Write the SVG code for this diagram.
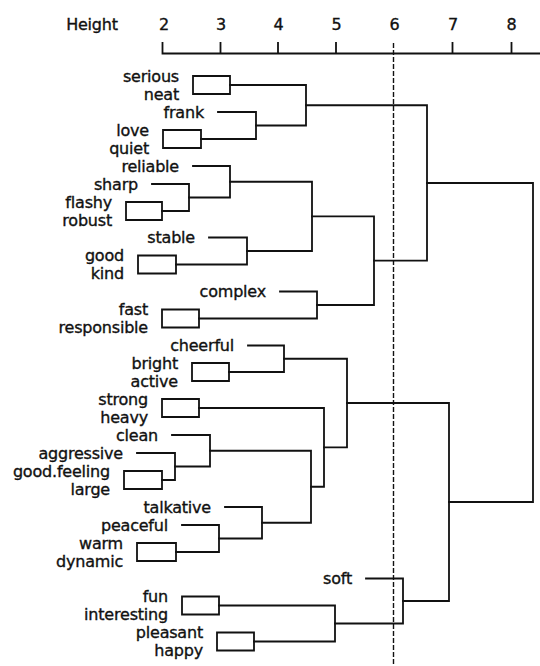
<svg xmlns="http://www.w3.org/2000/svg" width="540" height="666" viewBox="0 0 540 666">
<style>
.ln{fill:none;stroke:#111;stroke-width:1.8;stroke-linecap:square}
.dash{fill:none;stroke:#111;stroke-width:1.4;stroke-dasharray:5 2}
text{font-family:"DejaVu Sans","Liberation Sans",sans-serif;font-size:16px;fill:#111;stroke:#111;stroke-width:0.35;letter-spacing:-0.2px}
.lb{text-anchor:end}
.tk{text-anchor:middle}
</style>
<rect width="540" height="666" fill="#fff"/>
<g id="axis">
<text x="92" y="30" class="tk">Height</text>
<text x="164" y="30" class="tk">2</text>
<text x="221" y="30" class="tk">3</text>
<text x="278.5" y="30" class="tk">4</text>
<text x="336.5" y="30" class="tk">5</text>
<text x="394.5" y="30" class="tk">6</text>
<text x="453" y="30" class="tk">7</text>
<text x="511.5" y="30" class="tk">8</text>
<path class="ln" d="M162.5 53.5 H540 M162.5 43 V53.5 M220.5 43 V53.5 M278 43 V53.5 M336 43 V53.5 M452.5 43 V53.5 M511.5 43 V53.5"/>
<path class="dash" d="M393.5 43 V666"/>
</g>
<g id="leaves">
<g id="n-serious"><text class="lb" x="179" y="81.5">serious</text></g>
<g id="n-neat"><text class="lb" x="179" y="99.5">neat</text></g>
<g id="n-frank"><text class="lb" x="204" y="117.5">frank</text></g>
<g id="n-love"><text class="lb" x="149" y="135.5">love</text></g>
<g id="n-quiet"><text class="lb" x="149" y="153.5">quiet</text></g>
<g id="n-reliable"><text class="lb" x="179" y="171.5">reliable</text></g>
<g id="n-sharp"><text class="lb" x="138" y="189.5">sharp</text></g>
<g id="n-flashy"><text class="lb" x="112" y="207.5">flashy</text></g>
<g id="n-robust"><text class="lb" x="112" y="225.5">robust</text></g>
<g id="n-stable"><text class="lb" x="195" y="243">stable</text></g>
<g id="n-good"><text class="lb" x="124" y="261">good</text></g>
<g id="n-kind"><text class="lb" x="124" y="279">kind</text></g>
<g id="n-complex"><text class="lb" x="266" y="297">complex</text></g>
<g id="n-fast"><text class="lb" x="148" y="315">fast</text></g>
<g id="n-responsible"><text class="lb" x="148" y="333">responsible</text></g>
<g id="n-cheerful"><text class="lb" x="234" y="351">cheerful</text></g>
<g id="n-bright"><text class="lb" x="178" y="368.5">bright</text></g>
<g id="n-active"><text class="lb" x="178" y="386.5">active</text></g>
<g id="n-strong"><text class="lb" x="148" y="404.5">strong</text></g>
<g id="n-heavy"><text class="lb" x="148" y="422.5">heavy</text></g>
<g id="n-clean"><text class="lb" x="158" y="440.5">clean</text></g>
<g id="n-aggressive"><text class="lb" x="123" y="458.5">aggressive</text></g>
<g id="n-good-feeling"><text class="lb" x="110" y="476.5">good.feeling</text></g>
<g id="n-large"><text class="lb" x="110" y="494.5">large</text></g>
<g id="n-talkative"><text class="lb" x="211" y="512.5">talkative</text></g>
<g id="n-peaceful"><text class="lb" x="168" y="530.5">peaceful</text></g>
<g id="n-warm"><text class="lb" x="123" y="548.5">warm</text></g>
<g id="n-dynamic"><text class="lb" x="123" y="566.5">dynamic</text></g>
<g id="n-soft"><text class="lb" x="352" y="584">soft</text></g>
<g id="n-fun"><text class="lb" x="168" y="602">fun</text></g>
<g id="n-interesting"><text class="lb" x="168" y="620">interesting</text></g>
<g id="n-pleasant"><text class="lb" x="203" y="638">pleasant</text></g>
<g id="n-happy"><text class="lb" x="203" y="656">happy</text></g>
</g>
<g id="connectors">
<path class="ln" d="M193 76 H230 V94 H193 Z"/>
<path class="ln" d="M163 130 H201 V148 H163 Z"/>
<path class="ln" d="M218 112 H256 V139 H201"/>
<path class="ln" d="M230 85 H306 V125.5 H256"/>
<path class="ln" d="M126 202 H162 V220 H126 Z"/>
<path class="ln" d="M152 184 H189 V211 H162"/>
<path class="ln" d="M193 166 H230 V197.5 H189"/>
<path class="ln" d="M138 255.5 H176 V273.5 H138 Z"/>
<path class="ln" d="M209 237.5 H247 V264.5 H176"/>
<path class="ln" d="M230 181.75 H312 V251 H247"/>
<path class="ln" d="M162 309.5 H199 V327.5 H162 Z"/>
<path class="ln" d="M280 291.5 H317 V318.5 H199"/>
<path class="ln" d="M312 216.4 H374 V305 H317"/>
<path class="ln" d="M306 105.25 H427 V260.7 H374"/>
<path class="ln" d="M192 363 H229 V381 H192 Z"/>
<path class="ln" d="M248 345.5 H284 V372 H229"/>
<path class="ln" d="M162 399 H199 V417 H162 Z"/>
<path class="ln" d="M124 471 H162 V489 H124 Z"/>
<path class="ln" d="M137 453 H175 V480 H162"/>
<path class="ln" d="M172 435 H210 V466.5 H175"/>
<path class="ln" d="M137 543 H176 V561 H137 Z"/>
<path class="ln" d="M182 525 H219 V552 H176"/>
<path class="ln" d="M225 507 H262 V538.5 H219"/>
<path class="ln" d="M210 450.75 H311 V522.75 H262"/>
<path class="ln" d="M199 408 H324 V486.75 H311"/>
<path class="ln" d="M284 358.75 H347 V447.4 H324"/>
<path class="ln" d="M182 596.5 H219 V614.5 H182 Z"/>
<path class="ln" d="M217 632.5 H254 V650.5 H217 Z"/>
<path class="ln" d="M219 605.5 H335 V641.5 H254"/>
<path class="ln" d="M366 578.5 H403 V623.5 H335"/>
<path class="ln" d="M347 403 H449 V601 H403"/>
<path class="ln" d="M427 183 H533 V502 H449"/>
</g>
</svg>
